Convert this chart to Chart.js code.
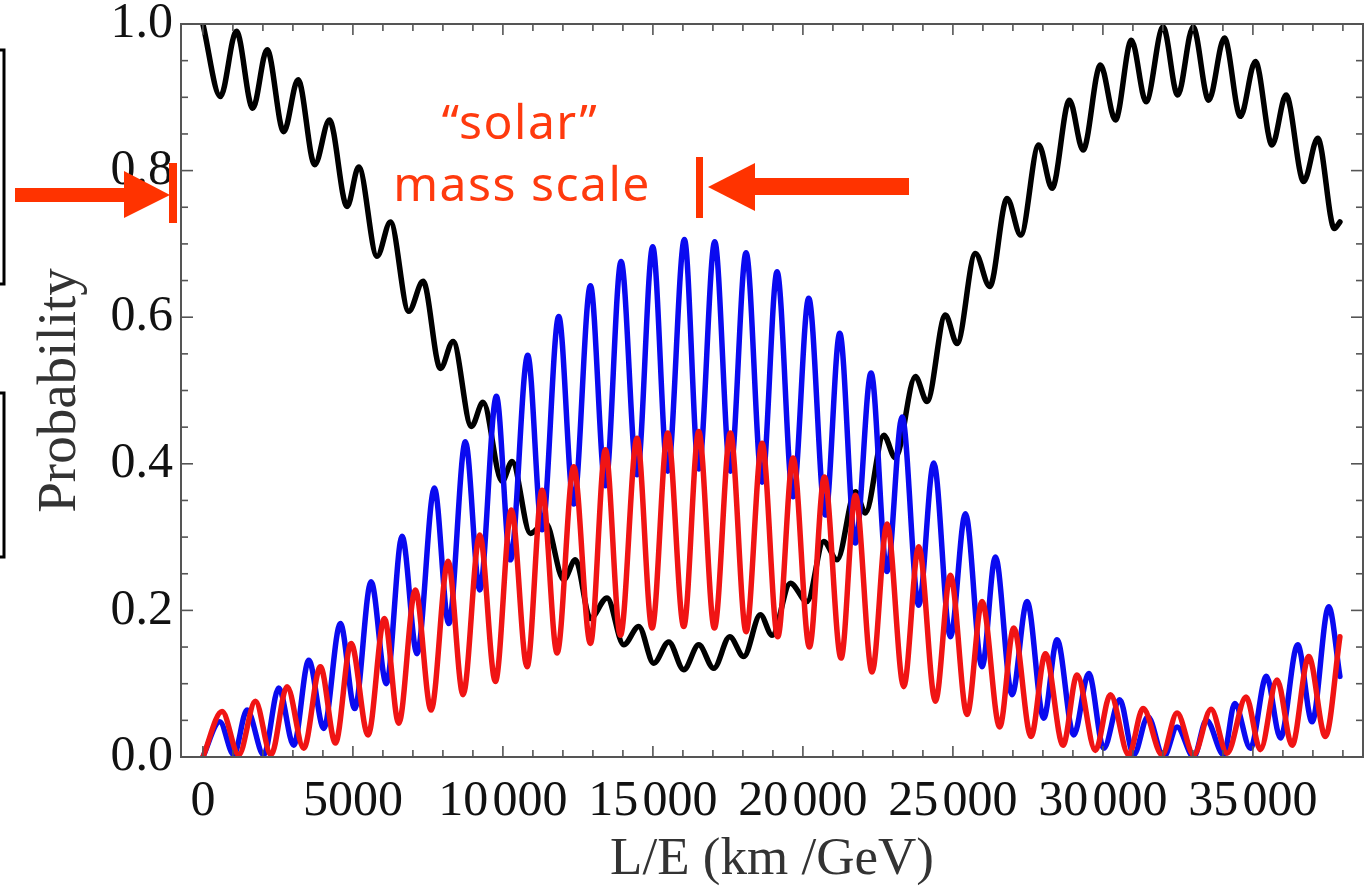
<!DOCTYPE html>
<html>
<head>
<meta charset="utf-8">
<script src="https://cdn.jsdelivr.net/npm/chart.js@4/dist/chart.umd.min.js"></script>
<style>
html,body{margin:0;padding:0;background:#fff;overflow:hidden}
#wrap{position:relative;width:1371px;height:887px}
canvas{display:block}
</style>
</head>
<body>
<div id="wrap"><canvas id="c" width="1371" height="887"></canvas></div>
<script>
// ---- tick labels ----
const xTickValues = [0, 5000, 10000, 15000, 20000, 25000, 30000, 35000];
const xTickLabels = ['0', '5000', '10\u200A000', '15\u200A000', '20\u200A000', '25\u200A000', '30\u200A000', '35\u200A000'];
const yTickValues = [0, 0.2, 0.4, 0.6, 0.8, 1.0];
const yTickLabels = ['0.0', '0.2', '0.4', '0.6', '0.8', '1.0'];

// ---- black curve (survival probability), read extrema ----
const blackX = [0,583,1117,1661,2139,2694,3172,3728,4217,4806,5194,5806,6250,6861,7339,7917,8339,8950,9339,9972,10306,10917,11417,12028,12417,12917,13472,14028,14528,15028,15528,16028,16528,17028,17561,18028,18583,18972,19583,20139,20694,21139,21750,22083,22694,23083,23750,24139,24750,25139,25750,26228,26806,27261,27861,28306,28883,29339,29917,30417,30950,31439,32006,32494,33006,33528,34050,34583,35083,35639,36106,36694,37161,37717,37900];
const blackY = [1.0,0.901,0.990,0.885,0.965,0.853,0.924,0.808,0.869,0.751,0.805,0.683,0.730,0.608,0.649,0.530,0.567,0.451,0.484,0.376,0.403,0.305,0.32,0.242,0.269,0.189,0.217,0.153,0.178,0.128,0.157,0.119,0.153,0.121,0.164,0.137,0.194,0.166,0.237,0.212,0.294,0.269,0.362,0.333,0.439,0.408,0.519,0.485,0.603,0.564,0.687,0.642,0.762,0.712,0.835,0.776,0.896,0.828,0.944,0.869,0.978,0.894,0.996,0.903,0.996,0.896,0.981,0.874,0.949,0.835,0.903,0.785,0.844,0.721,0.730];

// ---- blue curve ----
const blueX = [0,561,1028,1472,2028,2528,3028,3528,4028,4583,5061,5606,6117,6639,7139,7717,8194,8750,9228,9783,10250,10828,11306,11861,12361,12917,13417,13939,14472,14994,15494,16050,16528,17061,17583,18106,18639,19139,19672,20194,20750,21228,21750,22272,22806,23306,23861,24361,24917,25417,25972,26417,26972,27472,28028,28472,29028,29528,30028,30561,31028,31500,32028,32472,33028,33450,34028,34394,34917,35450,35917,36494,36972,37528,37900];
const blueY = [0,0.048,0.003,0.064,0.003,0.094,0.016,0.132,0.039,0.182,0.066,0.239,0.100,0.301,0.141,0.367,0.182,0.430,0.228,0.492,0.269,0.548,0.310,0.601,0.345,0.643,0.370,0.676,0.385,0.696,0.390,0.706,0.393,0.703,0.390,0.688,0.375,0.662,0.355,0.626,0.330,0.578,0.292,0.524,0.253,0.464,0.207,0.401,0.164,0.332,0.123,0.273,0.085,0.212,0.053,0.160,0.030,0.114,0.012,0.078,0.003,0.055,0.0,0.041,0.0,0.050,0.003,0.073,0.012,0.110,0.026,0.153,0.048,0.205,0.110];

// ---- red curve ----
const redX = [0,639,1194,1750,2272,2806,3361,3917,4417,4939,5506,6050,6528,7083,7606,8172,8672,9228,9750,10283,10806,11306,11806,12361,12917,13417,13917,14472,14972,15494,16028,16528,17050,17583,18106,18639,19161,19672,20217,20717,21272,21750,22306,22806,23361,23861,24417,24917,25472,25972,26561,27028,27606,28083,28672,29139,29750,30250,30861,31339,31972,32472,33028,33606,34139,34772,35250,35806,36306,36861,37417,37900];
const redY = [0,0.062,0.003,0.076,0.003,0.096,0.012,0.123,0.019,0.155,0.030,0.189,0.046,0.228,0.064,0.267,0.085,0.303,0.103,0.337,0.123,0.364,0.142,0.396,0.155,0.419,0.166,0.435,0.176,0.442,0.178,0.444,0.176,0.442,0.171,0.428,0.164,0.408,0.150,0.382,0.135,0.357,0.116,0.318,0.096,0.287,0.076,0.248,0.058,0.212,0.041,0.176,0.028,0.141,0.016,0.112,0.009,0.085,0.003,0.066,0.003,0.060,0.003,0.065,0.005,0.082,0.010,0.105,0.016,0.137,0.028,0.164];

const pts = (xs, ys) => xs.map((x, i) => ({x: x, y: ys[i]}));

const SERIF = "'Liberation Serif', 'Times New Roman', serif";
const ORANGE = '#ff3a0e';

// frame with inward ticks on all four sides (Mathematica style)
const framePlugin = {
  id: 'frame',
  afterDraw(chart) {
    const {ctx, chartArea: a, scales: {x, y}} = chart;
    ctx.save();
    ctx.strokeStyle = '#555';
    ctx.lineWidth = 2;
    ctx.strokeRect(a.left, a.top, a.right - a.left, a.bottom - a.top);
    ctx.lineWidth = 1.6;
    const seg = (x1, y1, x2, y2) => { ctx.beginPath(); ctx.moveTo(x1, y1); ctx.lineTo(x2, y2); ctx.stroke(); };
    for (let v = 0; v <= 38000; v += 1000) {
      const px = x.getPixelForValue(v);
      const L = v % 5000 === 0 ? 11 : 7;
      seg(px, a.bottom, px, a.bottom - L);
      seg(px, a.top, px, a.top + L);
    }
    for (let k = 0; k <= 20; k++) {
      const py = y.getPixelForValue(k * 0.05);
      const L = k % 4 === 0 ? 12 : 7;
      seg(a.left, py, a.left + L, py);
      seg(a.right, py, a.right - L, py);
    }
    ctx.restore();
  }
};

// annotation: arrows, text and cropped boxes at the left edge
const annoPlugin = {
  id: 'anno',
  afterDraw(chart) {
    const ctx = chart.ctx;
    ctx.save();
    ctx.strokeStyle = '#000';
    ctx.lineWidth = 3;
    ctx.strokeRect(-20, 50, 24, 234);
    ctx.strokeRect(-20, 393, 24, 164);

    ctx.fillStyle = '#ff3300';
    // left arrow
    ctx.fillRect(15, 188, 112, 14);
    ctx.beginPath(); ctx.moveTo(124, 171); ctx.lineTo(170, 195); ctx.lineTo(124, 218); ctx.closePath(); ctx.fill();
    ctx.fillRect(169, 163, 8, 60);
    // right arrow
    ctx.fillRect(696, 157, 7, 61);
    ctx.beginPath(); ctx.moveTo(708, 187); ctx.lineTo(755, 163); ctx.lineTo(755, 211); ctx.closePath(); ctx.fill();
    ctx.fillRect(754, 178, 155, 17);

    ctx.fillStyle = ORANGE;
    ctx.font = "48px 'Noto Sans', 'Open Sans', sans-serif";
    try { ctx.letterSpacing = '1.5px'; } catch (e) {}
    ctx.textAlign = 'center';
    ctx.textBaseline = 'alphabetic';
    ctx.fillText('\u201Csolar\u201D', 520, 139);
    ctx.fillText('mass scale', 522, 201);
    ctx.restore();
  }
};

new Chart(document.getElementById('c'), {
  type: 'line',
  data: {
    datasets: [
      {label: 'black', data: pts(blackX, blackY), borderColor: '#000000', borderWidth: 5.5, order: 3},
      {label: 'blue', data: pts(blueX, blueY), borderColor: '#0a0af0', borderWidth: 5.5, order: 2},
      {label: 'red', data: pts(redX, redY), borderColor: '#f01414', borderWidth: 5.5, order: 1}
    ]
  },
  options: {
    responsive: false,
    animation: false,
    events: [],
    layout: {padding: {top: 24, right: 8, left: 0, bottom: 0}},
    elements: {
      point: {radius: 0},
      line: {cubicInterpolationMode: 'monotone', borderCapStyle: 'round', borderJoinStyle: 'round', fill: false}
    },
    plugins: {legend: {display: false}, tooltip: {enabled: false}},
    scales: {
      x: {
        type: 'linear', min: -730, max: 38670,
        afterFit(s) { s.height = 130; s.paddingLeft = 0; s.paddingRight = 0; },
        afterBuildTicks(s) { s.ticks = xTickValues.map(v => ({value: v})); },
        ticks: {
          callback: (v, i) => xTickLabels[i],
          font: {family: SERIF, size: 50}, color: '#111',
          padding: 15, maxRotation: 0, autoSkip: false
        },
        grid: {display: false, drawTicks: false},
        border: {display: false},
        title: {display: true, text: 'L/E (km /GeV)', color: '#333',
          font: {family: SERIF, size: 53, lineHeight: 1}, padding: {top: 0, bottom: 0}}
      },
      y: {
        type: 'linear', min: 0, max: 1,
        afterFit(s) { s.width = 181; s.paddingTop = 0; s.paddingBottom = 0; },
        afterBuildTicks(s) { s.ticks = yTickValues.map(v => ({value: v})); },
        ticks: {
          callback: (v, i) => yTickLabels[i],
          font: {family: SERIF, size: 50}, color: '#111', padding: 8
        },
        grid: {display: false, drawTicks: false},
        border: {display: false},
        title: {display: true, text: 'Probability', color: '#333',
          font: {family: SERIF, size: 55, lineHeight: 1}, padding: {top: 33, bottom: 0}}
      }
    }
  },
  plugins: [framePlugin, annoPlugin]
});
</script>
</body>
</html>
